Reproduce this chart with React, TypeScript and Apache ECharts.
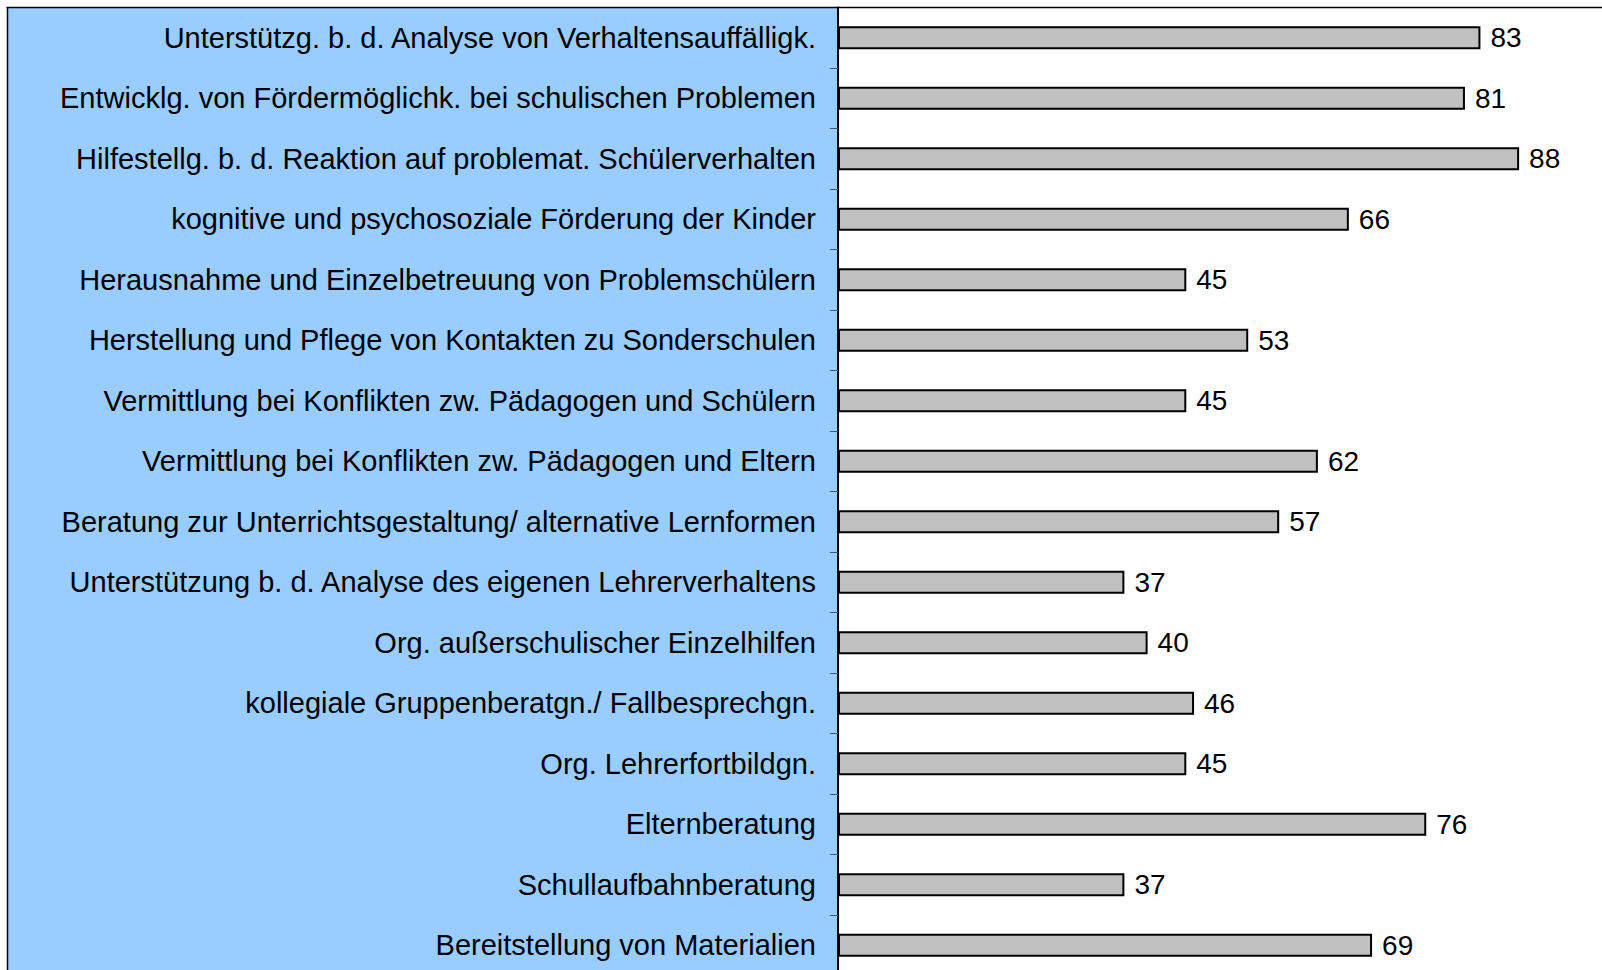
import React, { useEffect, useRef } from "react";
import * as echarts from "echarts";

const categories: string[] = [
  "Unterstützg. b. d. Analyse von Verhaltensauffälligk.",
  "Entwicklg. von Fördermöglichk. bei schulischen Problemen",
  "Hilfestellg. b. d. Reaktion auf problemat. Schülerverhalten",
  "kognitive und psychosoziale Förderung der Kinder",
  "Herausnahme und Einzelbetreuung von Problemschülern",
  "Herstellung und Pflege von Kontakten zu Sonderschulen",
  "Vermittlung bei Konflikten zw. Pädagogen und Schülern",
  "Vermittlung bei Konflikten zw. Pädagogen und Eltern",
  "Beratung zur Unterrichtsgestaltung/ alternative Lernformen",
  "Unterstützung b. d. Analyse des eigenen Lehrerverhaltens",
  "Org. außerschulischer Einzelhilfen",
  "kollegiale Gruppenberatgn./ Fallbesprechgn.",
  "Org. Lehrerfortbildgn.",
  "Elternberatung",
  "Schullaufbahnberatung",
  "Bereitstellung von Materialien",
];

const values: number[] = [83, 81, 88, 66, 45, 53, 45, 62, 57, 37, 40, 46, 45, 76, 37, 69];

const FONT = "'Liberation Sans', Arial, sans-serif";

export default function App() {
  const ref = useRef<HTMLDivElement>(null);

  useEffect(() => {
    if (!ref.current) return;
    const chart = echarts.init(ref.current, undefined, { renderer: "svg" });
    chart.setOption({
      animation: false,
      backgroundColor: "#ffffff",
      grid: {
        left: 838,
        top: 7.5,
        width: 774,
        height: 968,
        containLabel: false,
        outerBoundsMode: "none",
      },
      xAxis: {
        type: "value",
        min: 0,
        max: 100,
        show: false,
        splitLine: { show: false },
      },
      yAxis: {
        type: "category",
        data: categories,
        inverse: true,
        axisLine: { show: true, lineStyle: { color: "#000000", width: 2 } },
        axisTick: {
          show: true,
          inside: false,
          length: 8,
          alignWithLabel: false,
          lineStyle: { color: "#4a5466", width: 1 },
        },
        axisLabel: {
          margin: 22,
          fontSize: 29,
          fontFamily: FONT,
          color: "#000000",
          padding: [0, 0, 4, 0],
        },
        splitLine: { show: false },
      },
      graphic: [
        {
          type: "rect",
          z: -10,
          shape: { x: 8, y: 8, width: 830, height: 1000 },
          style: { fill: "#99CCFF" },
        },
        {
          type: "line",
          z: 100,
          shape: { x1: 6.5, y1: 7.5, x2: 1640, y2: 7.5 },
          style: { stroke: "#000000", lineWidth: 1.5 },
        },
        {
          type: "line",
          z: 100,
          shape: { x1: 7.5, y1: 7, x2: 7.5, y2: 1000 },
          style: { stroke: "#000000", lineWidth: 1.5 },
        },
      ],
      series: [
        {
          type: "bar",
          data: values,
          barWidth: 23,
          itemStyle: {
            color: "#C0C0C0",
            borderColor: "#000000",
            borderWidth: 2,
          },
          label: {
            show: true,
            position: "right",
            distance: 10,
            fontSize: 28,
            fontFamily: FONT,
            color: "#000000",
            padding: [0, 0, 4, 0],
          },
        },
      ],
    });
    return () => chart.dispose();
  }, []);

  return (
    <div
      style={{
        position: "fixed",
        left: 0,
        top: 0,
        width: 1602,
        height: 970,
        overflow: "hidden",
        background: "#ffffff",
      }}
    >
      <div ref={ref} style={{ width: 1640, height: 1000 }} />
    </div>
  );
}
